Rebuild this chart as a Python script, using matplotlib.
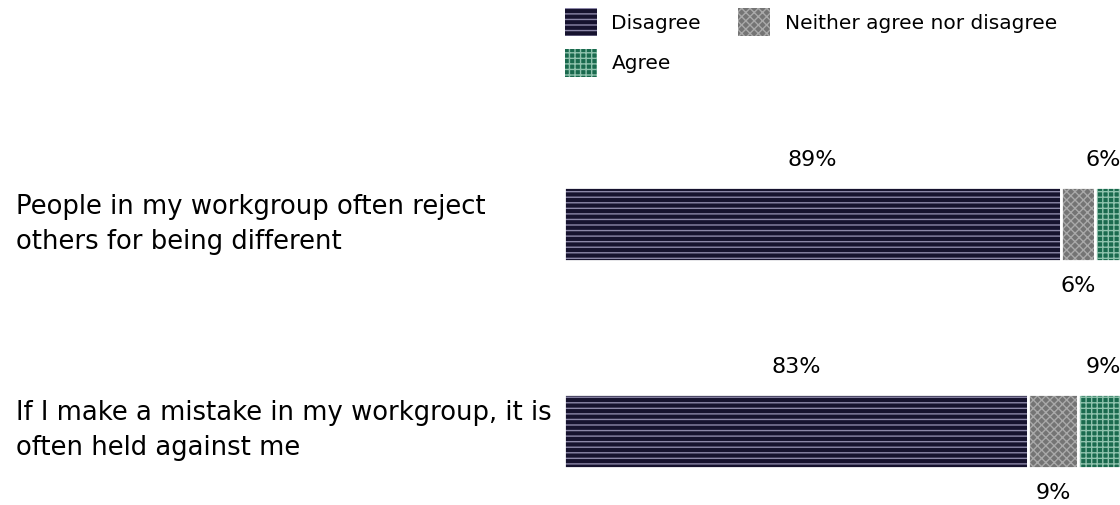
import matplotlib
matplotlib.use("Agg")
from matplotlib import pyplot as plt
from matplotlib.patches import Patch
from matplotlib.transforms import blended_transform_factory

plt.rcParams['font.family'] = ['DejaVu Sans']
plt.rcParams['hatch.linewidth'] = 1.0

# data
questions = ["People in my workgroup often reject\nothers for being different",
             "If I make a mistake in my workgroup, it is\noften held against me"]
categories = ["Disagree", "Neither agree nor disagree", "Agree"]
disagree = [89, 83]
neither = [6, 9]
agree = [6, 9]

colors = ["#16122e", "#747474", "#1a6a4e"]
hatch_colors = ["#8c87a8", "#a9a9a9", "#8fc2ad"]
hatches = ["---", "xxxx", "+++"]

fig = plt.figure(figsize=(11.2, 5.05), dpi=100)
ax = fig.add_axes([0.5036, 0.0, 0.499, 1.0])

series = [disagree, neither, agree]
y = list(range(len(questions)))
left = [0] * len(questions)
bar_h = 0.358
for k, vals in enumerate(series):
    ax.barh(y, vals, left=left, height=bar_h, color=colors[k], edgecolor=hatch_colors[k],
            hatch=hatches[k], linewidth=0)
    ax.barh(y, vals, left=left, height=bar_h, fill=False, edgecolor="white", linewidth=2)
    left = [l + v for l, v in zip(left, vals)]

# value labels
for i in range(len(questions)):
    ax.text(disagree[i] / 2, y[i] - 0.31, f"{disagree[i]}%", ha="center", va="center", fontsize=16)
    ax.text(disagree[i] + neither[i] / 2, y[i] + 0.30, f"{neither[i]}%", ha="center", va="center", fontsize=16)
    xa = min(disagree[i] + neither[i] + agree[i] / 2, 96.5)
    ax.text(xa, y[i] - 0.31, f"{agree[i]}%", ha="center", va="center", fontsize=16)

# question labels
tr = blended_transform_factory(fig.transFigure, ax.transData)
for i, q in enumerate(questions):
    ax.text(16 / 1120, y[i], q, transform=tr, ha="left", va="center", fontsize=18.6, linespacing=1.45)

ax.set_xlim(0, 100)
ax.set_ylim(1.36, -1.085)
ax.axis("off")

# legend filled row by row: Disagree, Neither / Agree
order = [0, 2, 1]
handles = [Patch(facecolor=colors[k], edgecolor=hatch_colors[k], hatch=hatches[k], linewidth=0)
           for k in order]
fig.legend(handles, [categories[k] for k in order], loc="upper left", bbox_to_anchor=(0.5045, 0.984),
           ncol=2, frameon=False, fontsize=14.5, handlelength=1.6, handleheight=1.75,
           handletextpad=0.7, columnspacing=1.85, labelspacing=0.65, borderpad=0, borderaxespad=0)

plt.savefig("out.png", dpi=100)
